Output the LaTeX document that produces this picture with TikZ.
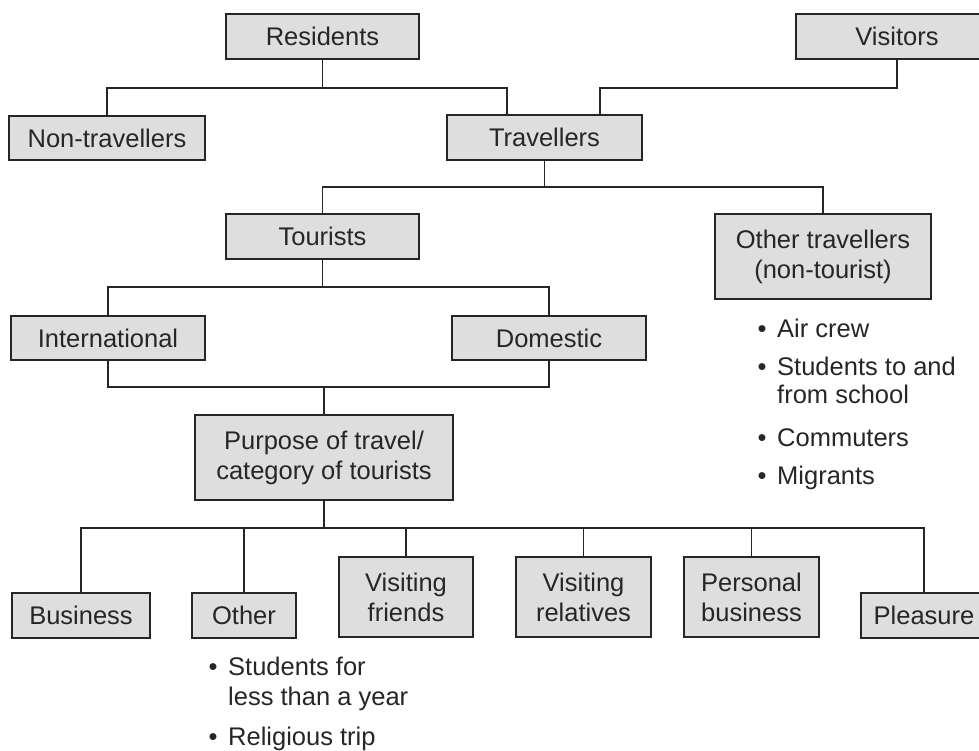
\documentclass[tikz,border=0pt]{standalone}
\usepackage{fontspec}
\setmainfont{Liberation Sans}
\definecolor{boxfill}{HTML}{DEDEDE}
\definecolor{ink}{HTML}{262626}
\begin{document}
\begin{tikzpicture}[x=1pt,y=-1pt,
  font=\fontsize{25.5}{30}\selectfont,
  box/.style={draw=ink, fill=boxfill, line width=1.3pt, inner sep=0pt, align=center, text=ink},
  conn/.style={draw=ink, line width=1.3pt},
  lst/.style={anchor=base west, inner sep=0pt, text=ink},
  bul/.style={anchor=base, inner sep=0pt, text=ink}]
\useasboundingbox (0,0) rectangle (979,751);
\clip (0,0) rectangle (979,751);
% boxes
\node[box, minimum width=193pt, minimum height=45pt] (res) at (322.5,36.5) {Residents};
\node[box, minimum width=202pt, minimum height=45pt] (vis) at (897,36.5) {Visitors};
\node[box, minimum width=196pt, minimum height=44pt] (nontrav) at (107,138) {Non-travellers};
\node[box, minimum width=195pt, minimum height=45pt] (trav) at (544.5,137.5) {Travellers};
\node[box, minimum width=193pt, minimum height=45pt] (tour) at (322.5,236.5) {Tourists};
\node[box, minimum width=216pt, minimum height=85pt] (oth) at (823,256.5) {Other travellers\\(non-tourist)};
\node[box, minimum width=194pt, minimum height=44pt] (intl) at (108,338) {International};
\node[box, minimum width=194pt, minimum height=44pt] (dom) at (549,338) {Domestic};
\node[box, minimum width=258pt, minimum height=85pt] (purp) at (324,457.5) {Purpose of travel/\\category of tourists};
\node[box, minimum width=138pt, minimum height=45pt] (bus) at (81,615.5) {Business};
\node[box, minimum width=104pt, minimum height=45pt] (other) at (244,615.5) {Other};
\node[box, minimum width=134pt, minimum height=80pt] (vf) at (406,597) {Visiting\\friends};
\node[box, minimum width=135pt, minimum height=80pt] (vr) at (583.5,597) {Visiting\\relatives};
\node[box, minimum width=135pt, minimum height=80pt] (pb) at (751.5,597) {Personal\\business};
\node[box, minimum width=126pt, minimum height=45pt] (plea) at (924,615.5) {Pleasure};
% junction levels
\coordinate (bar1) at (0,88);
\coordinate (bar2) at (0,187);
\coordinate (bar3) at (0,287);
\coordinate (bar4) at (0,387);
\coordinate (bar5) at (0,528);
\coordinate (t1) at ([xshift=-37.5pt]trav.north);
\coordinate (t2) at ([xshift=55.5pt]trav.north);
% connectors
\draw[conn] (res.south) -- (res.south |- bar1);
\draw[conn] (nontrav.north) |- (t1 |- bar1) -- (t1);
\draw[conn] (vis.south) |- (t2 |- bar1) -- (t2);
\draw[conn] (trav.south) -- (trav.south |- bar2);
\draw[conn] (tour.north) |- (oth.north |- bar2) -- (oth.north);
\draw[conn] (tour.south) -- (tour.south |- bar3);
\draw[conn] (intl.north) |- (dom.north |- bar3) -- (dom.north);
\draw[conn] (intl.south) |- (dom.south |- bar4) -- (dom.south);
\draw[conn] (purp.north) -- (purp.north |- bar4);
\draw[conn] (purp.south) -- (purp.south |- bar5);
\draw[conn] (bus.north) |- (plea.north |- bar5) -- (plea.north);
\draw[conn] (other.north) -- (other.north |- bar5);
\draw[conn] (vf.north) -- (vf.north |- bar5);
\draw[conn] (vr.north) -- (vr.north |- bar5);
\draw[conn] (pb.north) -- (pb.north |- bar5);
% list under Other travellers
\node[bul] (b1) at (762,337) {\textbullet};
\node[lst] (l1) at (777,337) {Air crew};
\node[bul] (b2) at (762,375) {\textbullet};
\node[lst] (l2) at (777,375) {Students to and};
\node[lst] (l3) at (777,403) {from school};
\node[bul] (b3) at (762,446) {\textbullet};
\node[lst] (l4) at (777,446) {Commuters};
\node[bul] (b4) at (762,484) {\textbullet};
\node[lst] (l5) at (777,484) {Migrants};
% list under Other
\node[bul] (b5) at (213,675) {\textbullet};
\node[lst] (l6) at (228,675) {Students for};
\node[lst] (l7) at (228,705) {less than a year};
\node[bul] (b6) at (213,745) {\textbullet};
\node[lst] (l8) at (228,745) {Religious trip};
\end{tikzpicture}
\end{document}
